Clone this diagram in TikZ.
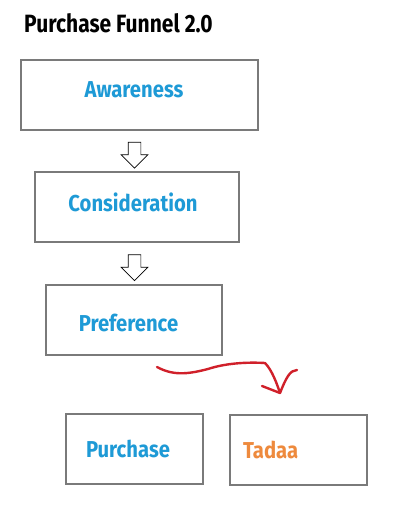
\documentclass[tikz,border=0pt]{standalone}
\usepackage{fontspec}
\setmainfont{Fira Sans}
\newfontfamily\narrowfont[FakeStretch=0.88]{Fira Sans}
\newfontfamily\titlefont[FakeStretch=0.84]{Fira Sans}
\usetikzlibrary{arrows.meta,positioning,shapes.arrows}
\definecolor{boxgrey}{HTML}{7A7A7A}
\definecolor{stageblue}{HTML}{1E9AD6}
\definecolor{tadaaorange}{HTML}{EE8A3D}
\definecolor{penred}{HTML}{D0202A}
% move a label inside its box: #1 = twice the shift to the left, #2 = lift
\newcommand\nudged[3]{\raisebox{#2}[\height][\depth]{#3}\hspace*{#1}}
\tikzset{
  % ---- funnel boxes ---------------------------------------------------
  fbox/.style={
    draw=boxgrey, line width=2pt, fill=white, inner sep=0pt,
    minimum height=70pt, text=stageblue,
    font=\narrowfont\bfseries\fontsize{23}{26}\selectfont},
  fend/.style={fbox, text=tadaaorange, align=left,
    text width=111pt, inner xsep=13pt},
  % ---- connections ----------------------------------------------------
  hollow/.style={
    single arrow, draw=black, line width=0.7pt, fill=white, rotate=-90,
    inner xsep=0pt, inner ysep=6pt, minimum height=26pt,
    minimum width=26pt, single arrow head extend=7pt},
  pen/.style={draw=penred, line width=2.4pt, line cap=round, line join=round},
}
\begin{document}
\begin{tikzpicture}[x=1pt, y=-1pt]
\useasboundingbox (0,0) rectangle (410,521);

% ---------------- title ----------------------------------------------
\node[anchor=base west, inner sep=0pt,
      font=\titlefont\bfseries\fontsize{25}{28}\selectfont] (title)
  at (24,33) {Purchase Funnel 2.0};

% ---------------- funnel stages --------------------------------------
\node[fbox, minimum width=237pt] (aware)  at (139.5,95.5)
  {\nudged{11pt}{6pt}{Awareness}};
\node[fbox, minimum width=204pt] (consid) at (137,207)
  {\nudged{8pt}{5pt}{Consideration}};
\node[fbox, minimum width=176pt] (pref)   at (134,320)
  {\nudged{11pt}{-3pt}{Preference}};
\node[fbox, minimum width=137pt] (buy)    at (134.5,448.5)
  {\nudged{13pt}{0pt}{Purchase}};
\node[fend, minimum width=137pt] (tadaa)  at (298.5,450) {Tadaa};

% ---------------- block arrows ---------------------------------------
\node[hollow] (down1) at (134.5,152) {};
\node[hollow] (down2) at (134.5,264.5) {};

% ---------------- red scribble ---------------------------------------
\coordinate (penstart) at (157,367);
\coordinate (pentip) at (280,393);
\draw[pen] (penstart) .. controls (175,377) and (192,373) .. (208,369)
  .. controls (226,363) and (248,362) .. (265,363)
  .. controls (272,370) and (277,384) .. (pentip);
\draw[pen] (262,386) -- (pentip) .. controls (286,378) and (290,370) .. (297,370);

\end{tikzpicture}
\end{document}
